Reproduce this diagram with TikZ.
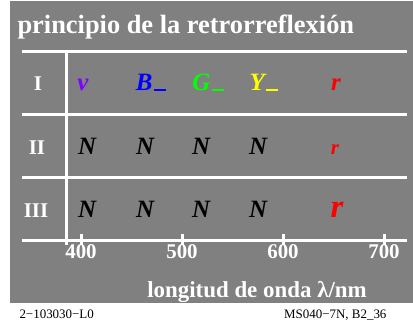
\documentclass[tikz,border=0pt]{standalone}
\usepackage{fontspec}
\setmainfont{Liberation Serif}
\definecolor{grau}{RGB}{128,128,128}
\definecolor{violett}{RGB}{127,0,255}
\definecolor{gruen}{RGB}{0,255,0}
\definecolor{gelb}{RGB}{255,255,0}
\tikzset{
  weiss/.style={text=white,font=\bfseries\fontsize{21}{23}\selectfont},
  buchst/.style={anchor=base,font=\bfseries\itshape\fontsize{25}{28}\selectfont},
  linie/.style={white,line width=3bp}
}
\newcommand{\minus}{\hspace{1.5bp}\rule[-1bp]{12bp}{2bp}}

\begin{document}
\begin{tikzpicture}[x=1bp,y=-1bp]
\useasboundingbox (0,0) rectangle (413,324);
\fill[grau] (10,1) rectangle (413,303);
%Titel
\node[weiss,anchor=base west,font=\bfseries\fontsize{26.5}{28}\selectfont] (titel) at (14,33) {principio de la retrorreflexión};
%Linien
\draw[linie] (22,51) -- (407,51);
\draw[linie] (22,114) -- (407,114);
\draw[linie] (22,177) -- (407,177);
\draw[linie] (22,240) -- (407,240);
\draw[linie] (66,51) -- (66,245);
%tiks und Zahlen
\foreach \x/\l in {81/400,182/500,283/600,384/700}
{
\draw[linie,shift={(\x,0)}] (0,234) -- (0,245);
\node[weiss,anchor=base] (z\l) at (\x,258) {\l};
}
\node[weiss,anchor=base,font=\bfseries\fontsize{23}{25}\selectfont] (achse) at (257,297) {longitud de onda λ/nm};
%Zeilen
\node[weiss,anchor=base] (I) at (38,90) {I};
\node[weiss,anchor=base] (II) at (37,154) {II};
\node[weiss,anchor=base] (III) at (36,217) {III};
\node[buchst,text=violett] (v) at (83,90) {v};
\node[buchst,text=blue] (B) at (151,90) {B\minus};
\node[buchst,text=gruen] (G) at (208,90) {G\minus};
\node[buchst,text=gelb] (Y) at (264,90) {Y\minus};
\node[buchst,text=red] (r1) at (336,90) {r};
\foreach \x [count=\i] in {87,145,201,258}
{
\node[buchst] (Na\i) at (\x,154) {N};
\node[buchst] (Nb\i) at (\x,217) {N};
}
\node[buchst,text=red,font=\bfseries\itshape\fontsize{21}{22}\selectfont] (r2) at (335,154) {r};
\node[buchst,text=red,font=\bfseries\itshape\fontsize{33}{36}\selectfont] (r3) at (337,217) {r};
%Fusszeile
\node[anchor=base west,font=\fontsize{13}{15}\selectfont] (code) at (16,318) {2−103030−L0};
\node[anchor=base east,font=\fontsize{13}{15}\selectfont] (quelle) at (390,318) {MS040−7N, B2\_36};
\end{tikzpicture}
\end{document}
